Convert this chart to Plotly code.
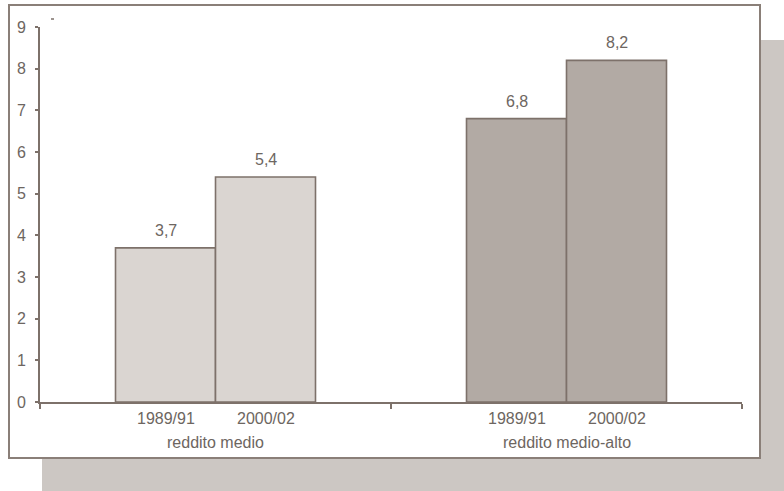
import plotly.graph_objects as go

groups = ["reddito medio", "reddito medio-alto"]
periods = ["1989/91", "2000/02"]
values_medio = [3.7, 5.4]
values_medio_alto = [6.8, 8.2]
y_ticks = [0, 1, 2, 3, 4, 5, 6, 7, 8, 9]

light = "#dad5d1"
dark = "#b2aaa4"
edge = "#7d716a"
txt = "#6d6661"
shadow = "#ccc7c3"
FONT = "Liberation Sans, Arial, sans-serif"

W, H = 784, 491
L, R, T, B = 40, 42, 27, 89
pw, ph = W - L - R, H - T - B

def px2x(px):
    return (px - L) / pw

def px2y(py):
    return (H - B - py) / ph

bar_w = 100 / (pw / 2)  # in group units
offsets = [-bar_w / 2, bar_w / 2]

fig = go.Figure()
annotations = []
for gi, (g, vals, col) in enumerate(zip(groups, [values_medio, values_medio_alto], [light, dark])):
    center = gi + 0.5
    xs = [center + o for o in offsets]
    fig.add_trace(go.Bar(
        x=xs, y=vals, width=bar_w,
        marker=dict(color=col, line=dict(color=edge, width=1.6)),
        showlegend=False, hoverinfo="skip",
    ))
    for x, v, p in zip(xs, vals, periods):
        annotations.append(dict(x=x, y=v, xref="x", yref="y", text=f"{v:.1f}".replace(".", ","),
                                showarrow=False, yanchor="bottom", yshift=7,
                                font=dict(size=16, color=txt, family=FONT)))
        annotations.append(dict(x=x, y=px2y(418), xref="x", yref="paper", text=p,
                                showarrow=False, yanchor="middle",
                                font=dict(size=16, color=txt, family=FONT)))
    annotations.append(dict(x=center, y=px2y(442), xref="x", yref="paper", text=g,
                            showarrow=False, yanchor="middle",
                            font=dict(size=16, color=txt, family=FONT)))

shapes = [
    dict(type="rect", xref="paper", yref="paper", x0=px2x(42), x1=px2x(800), y0=px2y(500), y1=px2y(40),
         fillcolor=shadow, line=dict(width=0), layer="below"),
    dict(type="rect", xref="paper", yref="paper", x0=px2x(9), x1=px2x(760), y0=px2y(458), y1=px2y(5),
         fillcolor="white", line=dict(color="#8a7f78", width=2), layer="below"),
    dict(type="line", xref="paper", yref="paper", x0=px2x(51), x1=px2x(54), y0=px2y(19), y1=px2y(19),
         line=dict(color=edge, width=1.5)),
]

fig.update_layout(
    width=W, height=H,
    margin=dict(l=L, r=R, t=T, b=B),
    paper_bgcolor="white", plot_bgcolor="rgba(0,0,0,0)",
    barmode="overlay",
    shapes=shapes, annotations=annotations,
    font=dict(family=FONT, size=16, color=txt),
    xaxis=dict(range=[0, 2], tickvals=[0, 1, 2], ticktext=["", "", ""], ticks="outside", ticklen=5,
               tickcolor=edge, tickwidth=1.5, showline=True, linecolor=edge, linewidth=2,
               showgrid=False, zeroline=False, fixedrange=True),
    yaxis=dict(range=[0, 9], tickvals=y_ticks, ticks="outside", ticklen=3, tickcolor=edge, tickwidth=1.5,
               showline=True, linecolor=edge, linewidth=2, showgrid=False, zeroline=False,
               ticklabelstandoff=6, tickfont=dict(size=16, color=txt, family=FONT)),
)

fig.write_html("out.html")
